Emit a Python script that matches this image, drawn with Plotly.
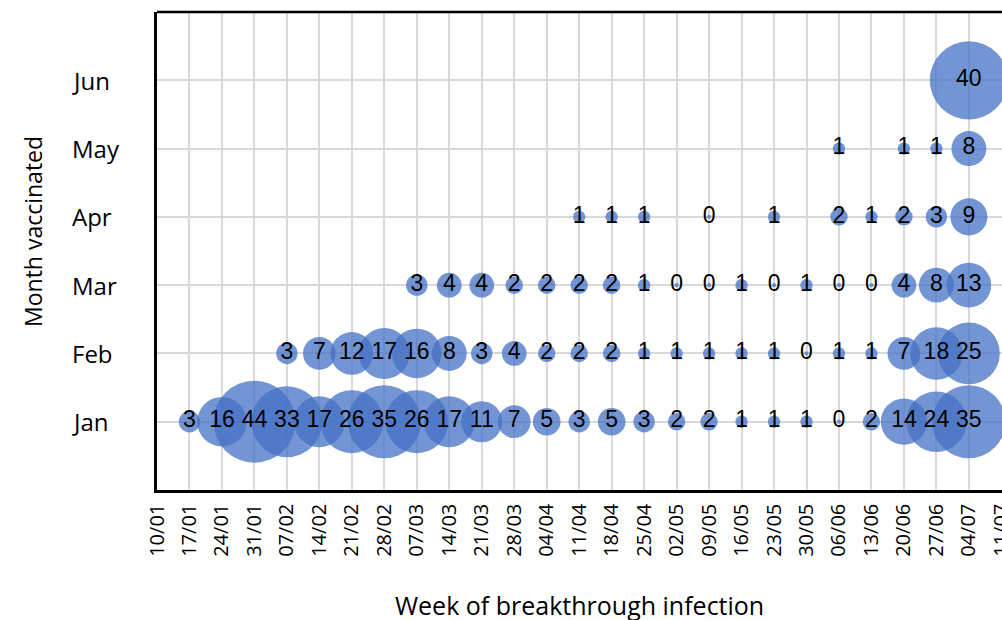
import plotly.graph_objects as go

weeks = ["10/01", "17/01", "24/01", "31/01", "07/02", "14/02", "21/02", "28/02",
         "07/03", "14/03", "21/03", "28/03", "04/04", "11/04", "18/04", "25/04",
         "02/05", "09/05", "16/05", "23/05", "30/05", "06/06", "13/06", "20/06",
         "27/06", "04/07", "11/07"]
months = ["Jan", "Feb", "Mar", "Apr", "May", "Jun"]

N = None
jan_counts = [N, 3, 16, 44, 33, 17, 26, 35, 26, 17, 11, 7, 5, 3, 5, 3, 2, 2, 1, 1, 1, 0, 2, 14, 24, 35, N]
feb_counts = [N, N, N, N, 3, 7, 12, 17, 16, 8, 3, 4, 2, 2, 2, 1, 1, 1, 1, 1, 0, 1, 1, 7, 18, 25, N]
mar_counts = [N, N, N, N, N, N, N, N, 3, 4, 4, 2, 2, 2, 2, 1, 0, 0, 1, 0, 1, 0, 0, 4, 8, 13, N]
apr_counts = [N, N, N, N, N, N, N, N, N, N, N, N, N, 1, 1, 1, N, 0, N, 1, N, 2, 1, 2, 3, 9, N]
may_counts = [N, N, N, N, N, N, N, N, N, N, N, N, N, N, N, N, N, N, N, N, N, 1, N, 1, 1, 8, N]
jun_counts = [N, N, N, N, N, N, N, N, N, N, N, N, N, N, N, N, N, N, N, N, N, N, N, N, N, 40, N]

rows = dict(zip(months, [jan_counts, feb_counts, mar_counts, apr_counts, may_counts, jun_counts]))

xs, ys, vs = [], [], []
for m, counts in rows.items():
    for w, v in zip(weeks, counts):
        if v is not None:
            xs.append(w)
            ys.append(m)
            vs.append(v)

max_v = max(vs)
max_diam = 82
sizes = [v if v > 0 else 0.12 for v in vs]

fig = go.Figure()
fig.add_trace(go.Scatter(
    x=xs, y=ys, mode="markers",
    marker=dict(size=sizes, sizemode="area", sizeref=2.0 * max_v / max_diam ** 2,
                color="#4472C4", opacity=0.75, line=dict(width=0)),
    hoverinfo="skip", showlegend=False, cliponaxis=True,
))
fig.add_trace(go.Scatter(
    x=xs, y=ys, mode="text", text=[str(v) for v in vs],
    textposition="middle center",
    textfont=dict(family="Liberation Sans, Arial", size=23, color="black"),
    hoverinfo="skip", showlegend=False, cliponaxis=False,
))

L, R, T, B = 157, 0, 12, 130
W, H = 1002, 620
pw = W - L - R
ph = H - T - B

annotations = []
for m in months:
    annotations.append(dict(
        x=(70 - L) / pw, xref="paper", xanchor="left",
        y=m, yref="y", yanchor="middle",
        text=m, showarrow=False,
        font=dict(family="Open Sans", size=24, color="black"),
    ))
annotations.append(dict(
    x=(33 - L) / pw, xref="paper", xanchor="center",
    y=(H - B - 232) / ph, yref="paper", yanchor="middle",
    text="Month vaccinated", textangle=-90, showarrow=False,
    font=dict(family="Open Sans", size=23, color="black"),
))
annotations.append(dict(
    x=0.5, xref="paper", xanchor="center",
    y=(H - B - 605) / ph, yref="paper", yanchor="middle",
    text="Week of breakthrough infection", showarrow=False,
    font=dict(family="Open Sans", size=25, color="black"),
))

fig.update_layout(
    width=W, height=H,
    margin=dict(l=L, r=R, t=T, b=B, pad=0),
    plot_bgcolor="white", paper_bgcolor="white",
    annotations=annotations,
    shapes=[dict(type="line", xref="paper", yref="paper", x0=0, x1=1, y0=1, y1=1,
                 line=dict(color="black", width=2.5))],
    xaxis=dict(
        type="category", categoryorder="array", categoryarray=weeks,
        range=[0, 26.02], showgrid=True, gridcolor="#d9d9d9", gridwidth=2,
        showline=True, linecolor="black", linewidth=2.5, zeroline=False,
        tickangle=-90, ticks="", ticklabelstandoff=3, automargin=False,
        tickfont=dict(family="Open Sans", size=20, color="black"),
    ),
    yaxis=dict(
        type="category", categoryorder="array", categoryarray=months,
        range=[-1, 6], showgrid=True, gridcolor="#d9d9d9", gridwidth=2,
        showline=True, linecolor="black", linewidth=2.5, zeroline=False,
        showticklabels=False, ticks="", automargin=False,
    ),
)

fig.write_html("out.html")
